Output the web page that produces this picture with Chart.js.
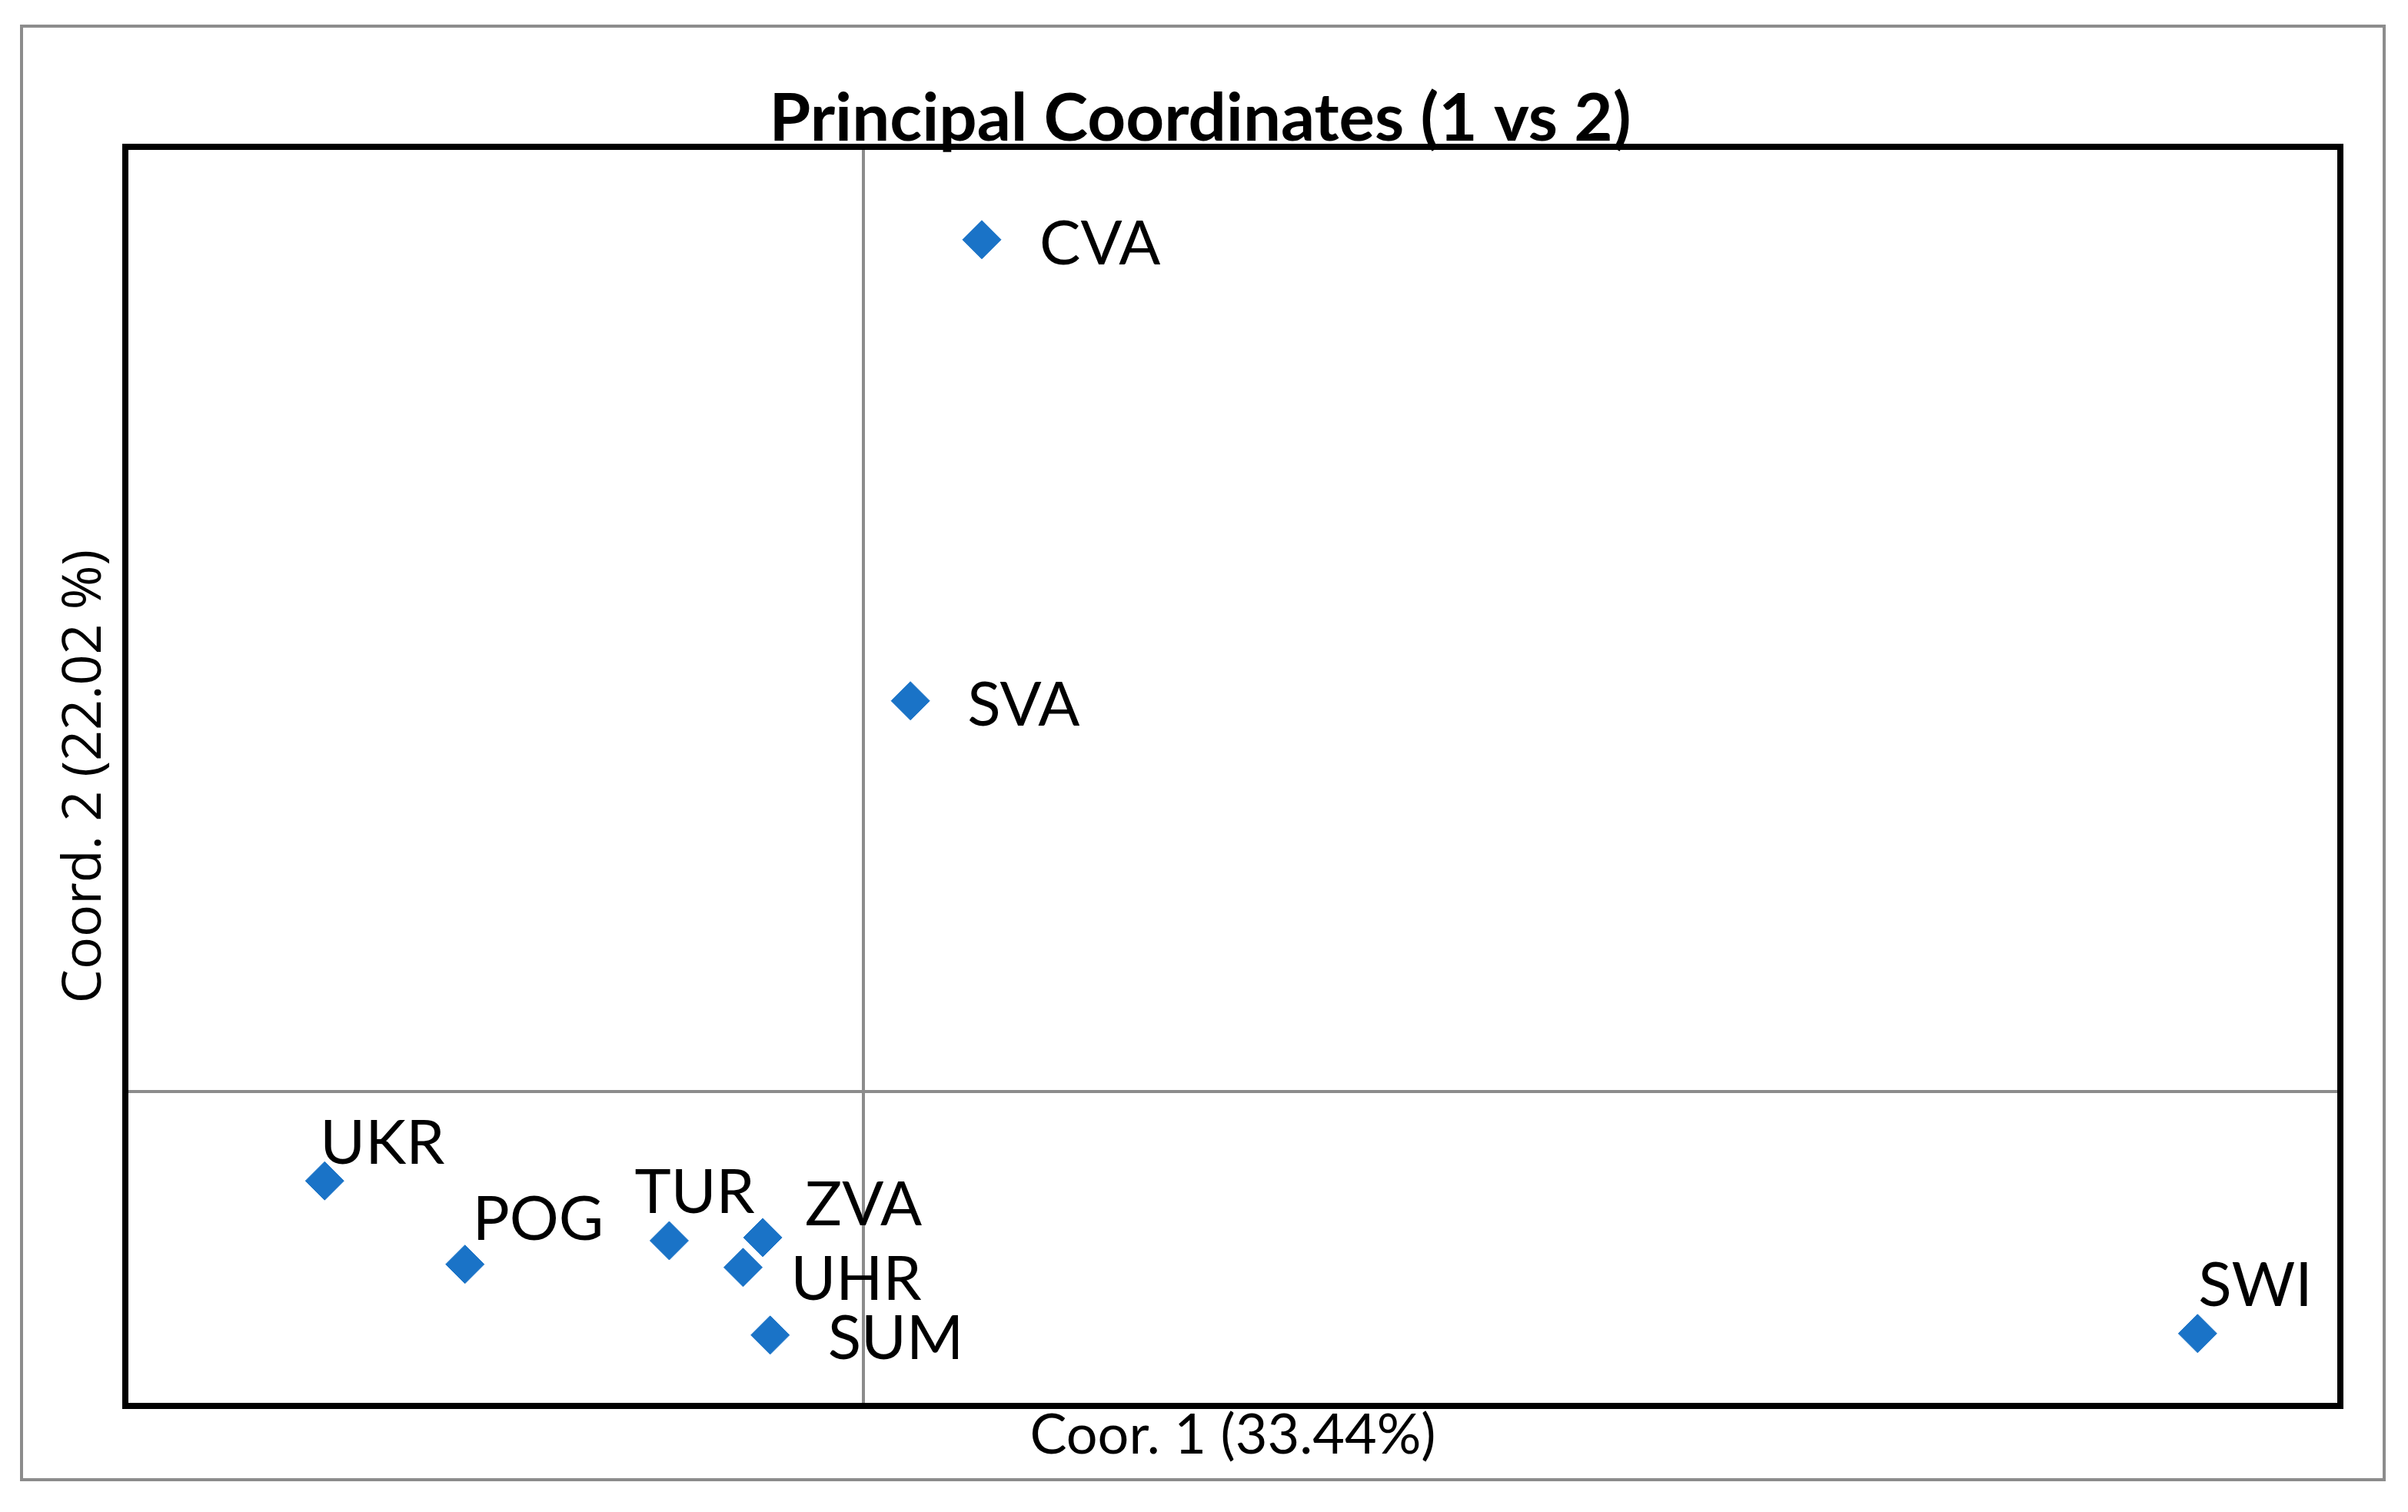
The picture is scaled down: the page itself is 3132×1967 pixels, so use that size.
<!DOCTYPE html>
<html>
<head>
<meta charset="utf-8">
<title>Principal Coordinates (1 vs 2)</title>
<script src="https://cdn.jsdelivr.net/npm/chart.js@4.4.1/dist/chart.umd.min.js"></script>
<style>
  html, body { margin: 0; padding: 0; background: #fff; }
  canvas { display: block; }
</style>
</head>
<body>
<canvas id="pcoa" width="3132" height="1967"></canvas>
<script>
"use strict";
// populations and their scores on the first two principal coordinates
var populations = ['CVA', 'SVA', 'UKR', 'POG', 'TUR', 'ZVA', 'UHR', 'SUM', 'SWI'];
var coord1 = [0.048, 0.019, -0.219, -0.162, -0.079, -0.041, -0.049, -0.038, 0.542];
var coord2 = [0.541, 0.248, -0.057, -0.110, -0.095, -0.093, -0.112, -0.155, -0.154];
var chartTitle = 'Principal Coordinates (1 vs 2)';
var xTitle = 'Coor. 1 (33.44%)';
var yTitle = 'Coord. 2 (22.02 %)';

// label placement (dx, baseline dy) around each marker, as moved in the original
var labelNudge = {
    CVA: [75, 32], SVA: [74, 32], UKR: [-6, -22], POG: [10, -32], TUR: [-45, -36],
    ZVA: [55, -16], UHR: [62, 42], SUM: [75, 31], SWI: [1, -36]
};

var blue = '#1a73c7', gray = '#8c8c8c';

var framePlugin = {
    id: 'frame',
    beforeDraw: function (chart) {
        var ctx = chart.ctx;
        ctx.save();
        ctx.fillStyle = '#fff';
        ctx.fillRect(0, 0, chart.width, chart.height);
        ctx.strokeStyle = gray;
        ctx.lineWidth = 4;
        ctx.strokeRect(28, 34, chart.width - 59, chart.height - 76);
        ctx.restore();
    },
    afterDatasetsDraw: function (chart) {
        var ctx = chart.ctx, a = chart.chartArea;
        var pts = chart.getDatasetMeta(0).data;
        ctx.save();
        ctx.font = '80px Lato';
        ctx.fillStyle = '#000';
        ctx.textAlign = 'left';
        ctx.textBaseline = 'alphabetic';
        pts.forEach(function (p, i) {
            var n = labelNudge[populations[i]] || [20, -20];
            ctx.fillText(populations[i], p.x + n[0], p.y + n[1]);
        });
        ctx.strokeStyle = '#000';
        ctx.lineWidth = 8;
        ctx.strokeRect(a.left, a.top, a.right - a.left, a.bottom - a.top);
        ctx.restore();
    }
};

var zeroLine = function (c) {
    return c.tick && Math.abs(c.tick.value) < 1e-9 ? gray : 'rgba(0,0,0,0)';
};

new Chart(document.getElementById('pcoa'), {
    type: 'scatter',
    data: {
        datasets: [{
            label: 'PCoA',
            data: populations.map(function (p, i) { return { x: coord1[i], y: coord2[i] }; }),
            pointStyle: 'rectRot',
            pointRadius: 25,
            pointBorderWidth: 1,
            backgroundColor: blue,
            borderColor: blue
        }]
    },
    options: {
        responsive: false,
        devicePixelRatio: 1,
        animation: false,
        layout: { padding: { left: 78, right: 88, top: 0, bottom: 45 } },
        plugins: {
            legend: { display: false },
            tooltip: { enabled: false },
            title: {
                display: true,
                text: chartTitle,
                color: '#000',
                font: { family: 'Lato', weight: 'bold', size: 87, lineHeight: '72px' },
                padding: { top: 119, bottom: 0 }
            }
        },
        scales: {
            x: {
                min: -0.3, max: 0.6,
                ticks: { display: false, stepSize: 0.1 },
                grid: { color: zeroLine, lineWidth: 4, drawTicks: false },
                border: { display: false },
                title: {
                    display: true, text: xTitle, color: '#000',
                    font: { family: 'Lato', size: 72, lineHeight: '68px' },
                    padding: { top: 5, bottom: 20 }
                }
            },
            y: {
                min: -0.2, max: 0.6,
                ticks: { display: false, stepSize: 0.1 },
                grid: { color: zeroLine, lineWidth: 4, drawTicks: false },
                border: { display: false },
                title: {
                    display: true, text: yTitle, color: '#000',
                    font: { family: 'Open Sans', size: 70, lineHeight: '64px' },
                    padding: { top: 1, bottom: 20 }
                }
            }
        }
    },
    plugins: [framePlugin]
});
</script>
</body>
</html>
